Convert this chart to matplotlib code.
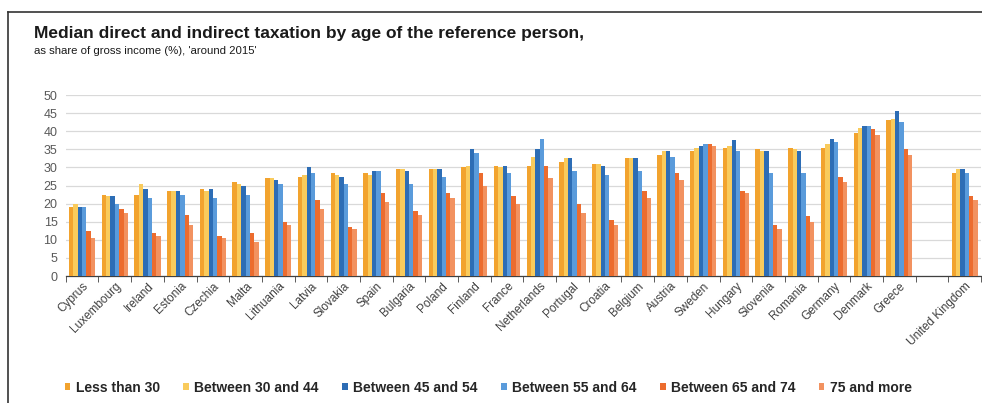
import matplotlib
matplotlib.use("Agg")
from matplotlib import pyplot as plt
from matplotlib.lines import Line2D
import numpy as np

plt.rcParams['font.family'] = ['Liberation Sans', 'DejaVu Sans']

countries = ["Cyprus", "Luxembourg", "Ireland", "Estonia", "Czechia", "Malta",
             "Lithuania", "Latvia", "Slovakia", "Spain", "Bulgaria", "Poland",
             "Finland", "France", "Netherlands", "Portugal", "Croatia", "Belgium",
             "Austria", "Sweden", "Hungary", "Slovenia", "Romania", "Germany",
             "Denmark", "Greece", "", "United Kingdom"]

series_names = ["Less than 30", "Between 30 and 44", "Between 45 and 54",
                "Between 55 and 64", "Between 65 and 74", "75 and more"]

# one list per age group, in country order (None = empty slot)
less_30 = [19, 22.5, 22.5, 23.5, 24, 26, 27, 27.5, 28.5, 28.5, 29.5, 29.5, 30, 30.5,
           30.5, 31.5, 31, 32.5, 33.5, 34.5, 35.5, 35, 35.5, 35.5, 39.5, 43, None, 28.5]
btw_30_44 = [20, 22, 25.5, 23.5, 23.5, 25.5, 27, 28, 28, 28, 29.5, 29.5, 30.5, 30,
             33, 32.5, 31, 32.5, 34.5, 35.5, 36, 34.5, 35, 36.5, 41, 43.5, None, 29.5]
btw_45_54 = [19, 22, 24, 23.5, 24, 25, 26.5, 30, 27.5, 29, 29, 29.5, 35, 30.5,
             35, 32.5, 30.5, 32.5, 34.5, 36, 37.5, 34.5, 34.5, 38, 41.5, 45.5, None, 29.5]
btw_55_64 = [19, 20, 21.5, 22.5, 21.5, 22.5, 25.5, 28.5, 25.5, 29, 25.5, 27.5, 34, 28.5,
             38, 29, 28, 29, 33, 36.5, 34.5, 28.5, 28.5, 37, 41.5, 42.5, None, 28.5]
btw_65_74 = [12.5, 18.5, 12, 17, 11, 12, 15, 21, 13.5, 23, 18, 23, 28.5, 22,
             30.5, 20, 15.5, 23.5, 28.5, 36.5, 23.5, 14, 16.5, 27.5, 40.5, 35, None, 22]
over_75 = [10.5, 17.5, 11, 14, 10.5, 9.5, 14, 18.5, 13, 20.5, 17, 21.5, 25, 20,
           27, 17.5, 14, 21.5, 26.5, 36, 23, 13, 15, 26, 39, 33.5, None, 21]

colors = ["#F2A32E", "#F9CB5C", "#2D6DB5", "#5A9BDB", "#EC6C2E", "#F29260"]

fig = plt.figure(figsize=(9.82, 4.03), dpi=100)
ax = fig.add_axes([0.067, 0.315, 0.932, 0.449])

data = [less_30, btw_30_44, btw_45_54, btw_55_64, btw_65_74, over_75]
x = np.arange(len(countries))
w = 0.8 / 6
for i, (vals, name) in enumerate(zip(data, series_names)):
    v = np.array([np.nan if a is None else a for a in vals], dtype=float)
    ax.bar(x - 0.4 + w * (i + 0.5), v, width=w, color=colors[i], label=name, zorder=3)

ax.set_xlim(-0.5, len(countries) - 0.5)
ax.set_ylim(0, 50)
ax.set_yticks(range(0, 51, 5))
ax.yaxis.grid(True, color="#D9D9D9", linewidth=0.9, zorder=0)
ax.tick_params(axis="y", length=0, labelsize=9, labelcolor="#595959", pad=6)
for s in ["top", "right", "left"]:
    ax.spines[s].set_visible(False)
ax.spines["bottom"].set_color("#404040")
ax.spines["bottom"].set_linewidth(0.9)

ax.set_xticks(x)
ax.set_xticklabels(countries, rotation=45, ha="right", rotation_mode="anchor",
                   fontsize=8.5, color="#404040")
ax.tick_params(axis="x", length=0, pad=3)
ax.set_xticks(np.arange(-0.5, len(countries)), minor=True)
ax.tick_params(axis="x", which="minor", length=4, color="#404040", direction="out")

fig.text(0.035, 0.905, "Median direct and indirect taxation by age of the reference person,",
         fontsize=12.5, fontweight="bold", color="#1A1A1A")
fig.text(0.035, 0.865, "as share of gross income (%), 'around 2015'",
         fontsize=8.2, color="#1A1A1A")

leg = fig.legend(loc="center left", bbox_to_anchor=(0.053, 0.038), ncol=6, frameon=False,
                 fontsize=10, handlelength=0.4, handleheight=0.4, handletextpad=0.4,
                 columnspacing=1.68)
for t in leg.get_texts():
    t.set_fontweight("bold")
    t.set_color("#262626")

# partial frame of the original panel
fig.add_artist(Line2D([0.008, 0.008], [0, 0.97], color="#333333", linewidth=1.2))
fig.add_artist(Line2D([0.008, 1.0], [0.97, 0.97], color="#333333", linewidth=1.2))

fig.savefig("out.png", dpi=100)
